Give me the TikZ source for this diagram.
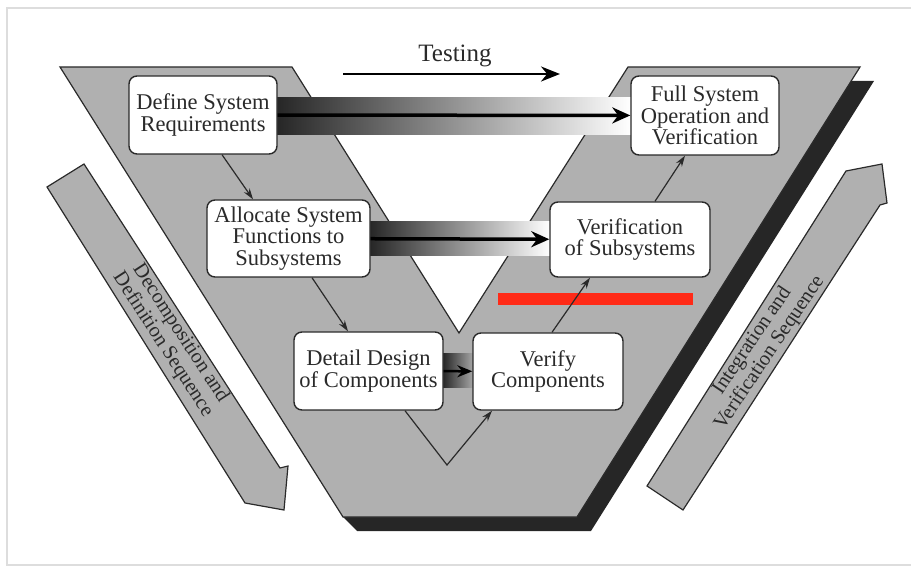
\documentclass[tikz,border=0pt]{standalone}
\usepackage{fontspec}
\setmainfont{Liberation Serif}
\usetikzlibrary{arrows.meta}

\definecolor{vgray}{HTML}{B0B0B0}
\definecolor{shadowgray}{HTML}{262626}
\definecolor{inkgray}{HTML}{2A2A2A}
\definecolor{framegray}{HTML}{DDDDDD}
\definecolor{markred}{HTML}{FF2A17}

\begin{document}
\begin{tikzpicture}[x=1pt,y=-1pt,
		stage/.style={draw=inkgray, line width=1.4pt, fill=white, rounded corners=8pt, align=center, inner sep=0pt, text=inkgray, font=\fontsize{22.5}{21.5}\selectfont},
		flow/.style={draw=inkgray, line width=1.2pt, -{Stealth[length=11pt,width=7pt]}},
		bararrow/.style={draw=black, line width=3.5pt, -{Stealth[length=18pt,width=16pt]}},
		testarrow/.style={draw=black, line width=2.5pt, -{Stealth[length=19pt,width=15pt]}},
		seqarrow/.style={draw=inkgray, line width=1.2pt, fill=vgray},
		seqtext/.style={align=center, text=inkgray, inner sep=0pt, font=\fontsize{20.5}{21}\selectfont}
	]
	\useasboundingbox (0,0) rectangle (911,569);
	% Frame of the scanned page
	\draw[framegray, line width=1.5pt] (911,8) -- (7,8) -- (7,565) -- (911,565);
	
	% Shadow and the V
	\fill[shadowgray] (851,81) -- (874,81) -- (591,531) -- (357,531) -- (343,517) -- (577,517) -- cycle;
	\filldraw[fill=vgray, draw=inkgray, line width=1.2pt] (60,67) -- (292,67) -- (459,333) -- (628,67) -- (860,67) -- (577,517) -- (343,517) -- cycle;
	
	% Side arrows with their texts
	\filldraw[seqarrow] (47,187) -- (84,164) -- (280,468) -- (288,466) -- (284,510) -- (245,503) -- cycle;
	\filldraw[seqarrow] (647,486) -- (846,171) -- (882,164) -- (887,203) -- (880,205) -- (683,510) -- cycle;
	\node[seqtext, rotate=-57] (decomp) at (171.5,339) {Decomposition and\\Definition Sequence};
	\node[seqtext, rotate=56] (integ) at (761,347) {Integration and\\Verification Sequence};
	
	% Red mark
	\fill[markred] (498,293) rectangle (693,305);
	
	% Shaded testing bars
	\shade[left color=black!85, middle color=black!62, right color=white] (277,98) rectangle (631,135);
	\shade[left color=black!85, middle color=black!60, right color=white] (370,222) rectangle (550,256);
	\shade[left color=black!85, right color=black!35] (443,354) rectangle (473,388);
	
	% Stages
	\node[stage, minimum width=148pt, minimum height=78pt] (define) at (203,115) {Define System\\Requirements};
	\node[stage, minimum width=163pt, minimum height=77pt] (allocate) at (288.5,238.5) {Allocate System\\Functions to\\Subsystems};
	\node[stage, minimum width=149pt, minimum height=78pt] (detail) at (368.5,371) {Detail Design\\of Components};
	\node[stage, minimum width=150pt, minimum height=77pt] (verifycomp) at (548,371.5) {Verify\\Components};
	\node[stage, minimum width=160pt, minimum height=75pt] (verifysub) at (630,239.5) {Verification\\of Subsystems};
	\node[stage, minimum width=148pt, minimum height=79pt] (fullsys) at (705,115.5) {Full System\\Operation and\\Verification};
	
	% Testing arrows across the V
	\draw[bararrow] (define) -- (fullsys);
	\draw[bararrow] (allocate) -- (verifysub);
	\draw[draw=black, line width=2.5pt, -{Stealth[length=15pt,width=12pt]}] (detail) -- (verifycomp);
	
	% Down and up the V
	\coordinate (vbottom) at (447,465);
	\draw[flow] ([xshift=19pt]define.south) -- ([xshift=-35.5pt]allocate.north);
	\draw[flow] ([xshift=23.5pt]allocate.south) -- ([xshift=-20.5pt]detail.north);
	\draw[flow] ([xshift=36.5pt]detail.south) -- (vbottom) -- ([xshift=-56pt]verifycomp.south);
	\draw[flow] ([xshift=4pt]verifycomp.north) -- ([xshift=-40pt]verifysub.south);
	\draw[flow] ([xshift=25pt]verifysub.north) -- ([xshift=-20pt]fullsys.south);
	
	% Testing label
	\node[anchor=base, text=inkgray, font=\fontsize{25}{25}\selectfont] (testing) at (455,62) {Testing};
	\coordinate (teststart) at (343,74);
	\coordinate (testend) at (560,74);
	\draw[testarrow] (teststart) -- (testend);
\end{tikzpicture}
\end{document}
